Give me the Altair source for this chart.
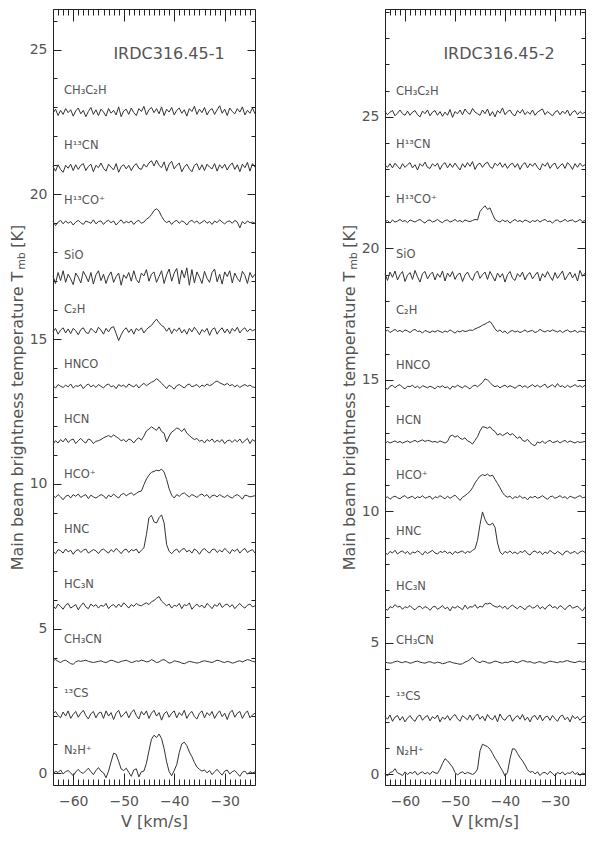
import altair as alt
import pandas as pd

# ---------------- channel grid ----------------
V_START = -64.0
V_STEP = 0.5
N_CHAN = 81

XMINOR = list(range(-64, -23))
XMAJOR = [-60, -50, -40, -30]
YMAJOR = [0, 5, 10, 15, 20, 25]
YMINOR_L = list(range(0, 27))
YMINOR_R = list(range(0, 30))

molecules = ["N₂H⁺", "¹³CS", "CH₃CN", "HC₃N", "HNC", "HCO⁺", "HCN", "HNCO",
             "C₂H", "SiO", "H¹³CO⁺", "H¹³CN", "CH₃C₂H"]

left_offsets = [0, 2.0, 3.85, 5.75, 7.65, 9.55, 11.45, 13.35, 15.25, 17.1, 19.0, 20.9, 22.8]
right_offsets = [0, 2.1, 4.25, 6.3, 8.4, 10.5, 12.6, 14.7, 16.8, 18.9, 21.0, 23.1, 25.1]

# ---------------- IRDC316.45-1 spectra (0.01 K above baseline) ----------------
L_N2H = [-5, 8, 3, 12, -2, 6, 10, 2, -8, 5,
         14, 4, 0, 9, 18, 6, -4, 10, 20, 8,
         2, -15, 8, 40, 70, 66, 42, 15, 10, 18,
         4, -10, 12, 16, -12, 6, 8, 35, 78, 118,
         132, 124, 136, 120, 86, 40, 6, -8, 10, 30,
         72, 102, 108, 96, 74, 58, 38, 22, 14, 8,
         12, 2, 10, -4, 6, 14, 3, -6, 8, 12,
         -2, 6, 10, 0, -10, 4, 8, -3, 6, 2,
         5]
L_13CS = [6, 14, 0, -8, 12, -2, 16, -10, 4, 14,
          -6, 8, 18, 0, -12, 6, 14, -8, 8, 12,
          -10, 16, -2, 10, -14, 8, 18, -6, 4, 14,
          -8, 10, 20, 0, -12, 14, 2, 16, -10, 8,
          18, -2, 10, -16, 6, 14, -6, 8, 16, -8,
          10, 0, 18, -10, 6, 14, -4, -12, 8, 16,
          -8, 10, 0, 14, -10, 6, 16, -4, 8, -14,
          10, 18, -6, 8, 14, -10, 6, 16, -8, 2,
          8]
L_CH3CN = [4, 8, 2, -2, 4, 6, 0, -6, -8, 0,
           4, 2, 4, 6, 2, 0, -2, 0, 2, 4,
           0, -2, 2, 6, 4, 0, -2, 2, 4, 6,
           2, -2, 0, 4, 2, 6, 4, 0, 2, 8,
           4, -2, 0, 6, 8, 2, -4, -2, 4, 2,
           0, -4, -6, -2, 2, 0, -2, -4, -2, 2,
           4, 2, 0, -2, 2, 6, 4, 0, -2, 2,
           0, -4, -2, 2, 4, 0, 4, 8, 6, 2,
           0]
L_HC3N = [4, -6, 10, 2, -8, 6, 12, -4, 2, 8,
          -10, 4, 14, 0, -6, 10, 2, 8, -4, 6,
          2, 12, -6, 4, 8, -2, 10, 0, 14, 6,
          -4, 8, 2, 12, 6, 4, 10, 14, 8, 18,
          22, 30, 36, 20, 12, 4, 10, -4, 6, 2,
          12, -6, 8, 4, 14, -8, 2, 10, 0, 6,
          -4, 12, 4, -6, 8, 2, 14, -2, 6, 10,
          0, 8, -6, 4, 12, 2, -4, 6, 10, 0,
          4]
L_HNC = [2, -6, 8, 4, -4, 10, 0, 6, -8, 4,
         8, -2, 6, 10, -4, 2, 8, 4, -6, 6,
         10, 2, -4, 8, 0, 12, 4, -6, 6, 10,
         -2, 8, 4, 10, -4, 6, 14, 60, 118, 126,
         104, 100, 118, 128, 100, 25, 2, -6, 4, 10,
         -2, 8, 12, 0, 6, -4, 10, 4, -8, 6,
         12, 2, -4, 8, 10, -2, 6, 0, 12, 4,
         -6, 8, 2, 10, -4, 6, 12, -2, 4, 8,
         -4]
L_HCOP = [4, -2, 8, 0, -10, 2, 6, -4, 8, 2,
          10, -2, 4, 8, -6, 6, 0, -4, 2, 8,
          4, -6, 6, 0, 10, 2, -4, 8, 12, 4,
          10, 14, 6, 12, 18, 20, 42, 62, 75, 85,
          88, 92, 90, 96, 86, 60, 28, 6, -4, 8,
          2, 10, 14, 6, 0, 8, 4, -2, 6, 10,
          2, 8, -4, 4, 6, 0, 8, 2, -2, 6,
          0, -4, 4, 8, 2, -8, 6, 4, 0, 2,
          4]
L_HCN = [-8, 4, -4, 8, 0, 12, -2, 6, 10, -6,
         4, 12, 2, -4, 10, 6, -6, 2, 4, 8,
         14, 18, 22, 16, 24, 18, 12, 4, 8, 0,
         10, 6, -4, 8, 14, 6, 20, 38, 44, 52,
         46, 40, 52, 36, 30, 0, 20, 34, 40, 48,
         44, 36, 46, 30, 22, 14, 8, 12, 2, 6,
         -4, 8, 2, 10, -2, 6, 0, 8, -6, 4,
         6, -2, 8, 0, 10, -4, 4, 12, -6, 8,
         2]
L_HNCO = [4, -4, 8, 2, -2, 6, 0, 10, -4, 4,
          2, 8, -6, 4, 10, 0, 6, -2, 8, 2,
          -4, 6, 10, 0, 4, -6, 8, 2, 6, -2,
          10, 4, 0, 8, -4, 6, 12, 4, 10, 16,
          20, 28, 22, 12, 4, -6, 6, 0, -8, 4,
          8, 2, -4, 6, 10, 0, 4, 8, -2, 6,
          2, 10, 4, 8, 16, 20, 14, 10, 6, 12,
          4, 8, 0, 6, -2, 4, 8, 2, 6, 0,
          -2]
L_C2H = [0, 12, -8, 6, 14, -4, 10, -6, 12, 4,
         -10, 8, 14, -2, -6, 12, 4, -4, 16, 6,
         -8, 12, 0, 14, 18, -6, -30, -10, 6, 14,
         -2, 10, -8, 12, 4, 14, -4, 8, 16, 22,
         34, 44, 32, 22, 16, 2, 14, -6, 10, 2,
         14, -4, 8, -8, 12, 0, 16, 4, -10, 8,
         0, 12, -12, 8, 14, -8, 6, 14, -4, 10,
         -6, 12, 2, 16, -4, 8, 14, 0, 10, 4,
         8]
L_SIO = [8, -18, 20, -8, 26, -14, 14, -2, -22, 18,
         4, -16, 24, 8, -12, 20, -20, 12, 26, -8,
         14, -18, 8, 22, -14, 6, 18, -24, 12, 0,
         20, -10, 26, -4, -16, 18, 8, 30, -10, 14,
         22, -14, 6, 26, -18, 12, 32, -10, 18, 34,
         -20, 28, 2, 36, -24, 30, -16, 22, 4, -18,
         24, 0, -14, 20, 32, -12, 14, -20, 22, 6,
         26, -16, 18, 0, -12, 24, 10, -18, 20, 2,
         14]
L_H13COP = [6, -8, 4, 10, -2, 8, 0, 6, -6, 4,
            10, 2, -4, 8, 4, 0, 12, -2, 6, 8,
            -4, 6, 10, 2, 8, -6, 4, 12, 0, 6,
            2, 8, -4, 6, 10, 0, 4, 14, 20, 30,
            44, 50, 42, 24, 10, 2, 8, -4, 6, 10,
            0, 8, 4, -6, 6, 10, 2, 8, -2, 4,
            10, 0, 6, -4, 8, 2, 12, 4, -2, 6,
            8, 0, 10, 4, -16, 6, -2, 8, 2, 4,
            0]
L_H13CN = [6, -10, 12, -4, -14, 10, 0, 14, -8, 12,
           -4, 10, 16, -8, 6, 14, -12, 10, 2, 18,
           0, -10, 14, 4, -6, 16, -14, 6, 12, -2,
           10, -8, 8, 16, 0, -4, 14, 4, 18, 26,
           8, 28, 10, 2, 22, -10, 14, 24, -2, 10,
           18, -12, 4, 14, -2, -12, 10, 16, -6, 12,
           -8, 14, 4, -2, 16, -10, 12, 0, 14, -6,
           10, 18, -4, 12, -12, 14, 2, 20, -10, 16,
           4]
L_CH3C2H = [0, 14, -8, 10, -4, 16, 2, 12, -10, 8,
            18, -2, 10, -12, 6, 20, -4, 12, -8, 14,
            4, -10, 16, 0, 10, -6, 22, -12, 8, 14,
            -4, 18, 2, -8, 16, 6, 24, -6, 12, 20,
            2, 16, -2, 22, -8, 14, 4, 20, -6, 10,
            18, 0, 12, -10, 16, 6, 24, -4, 14, 2,
            20, -6, 10, 16, -4, 12, 26, 0, 14, -8,
            18, 6, -2, 16, 4, 22, -6, 10, 0, 18,
            -2]

# ---------------- IRDC316.45-2 spectra (0.01 K above baseline) ----------------
R_N2H = [4, -6, 8, 10, 22, 6, 2, -4, 10, 0,
         8, 4, 12, -2, 6, 10, 2, 8, 0, 12,
         6, 4, 20, 42, 60, 52, 40, 28, 8, -2,
         6, 10, 2, 8, 4, 0, 6, 20, 90, 115,
         110, 106, 96, 80, 62, 48, 30, 14, -6, 8,
         60, 98, 96, 80, 64, 52, 36, 18, 8, 12,
         2, 10, -4, 6, 8, 0, 12, 4, -6, 8,
         2, 10, -2, 6, 4, 12, 0, 8, -4, 6,
         2]
R_13CS = [10, 0, 16, -8, 8, 14, -4, 10, -10, 4,
          14, 0, -8, 10, 16, -4, 8, 14, -6, 10,
          2, 16, -10, 8, 0, 14, -4, 10, 18, 2,
          -8, 14, 6, -2, 16, -4, 10, 20, 0, 12,
          -6, 18, 4, -2, 14, -10, 20, 2, -4, 10,
          16, -8, 6, 14, 0, 18, -4, 8, -10, 10,
          14, -2, 16, -6, 8, 12, -4, 14, 2, -8,
          10, 16, -2, 8, -10, 14, 2, 10, -4, 8,
          12]
R_CH3CN = [2, 0, -2, 0, 4, 6, 2, 0, 4, 2,
           -2, 0, 4, 6, 2, 0, -2, 2, 4, 0,
           -2, 2, 0, -4, -2, 2, 4, 0, -2, -4,
           -6, -4, 2, 6, 12, 20, 10, 4, 0, 6,
           4, 0, -2, 2, 6, 4, 0, -2, 2, 0,
           4, 6, 2, 0, 4, 8, 6, 2, 4, 0,
           -2, 2, 4, 0, -2, 2, 6, 4, 2, 0,
           4, 2, 6, 8, 4, 2, 0, 4, 6, 2,
           4]
R_HC3N = [2, -6, 8, 4, 16, 6, 10, -2, 8, 4,
          12, 2, -4, 6, 10, 0, 8, 4, -6, 6,
          10, -2, 4, 12, 0, 6, -8, 8, 2, 10,
          4, -4, 14, 0, 8, 6, 16, 2, 10, 6,
          20, 18, 22, 14, 8, 6, 12, 2, 10, -2,
          8, 14, 6, 0, 10, 4, -4, 8, 12, 2,
          6, 14, 0, 8, -2, 10, 16, 4, 8, 0,
          12, 6, -4, 8, 14, 2, 6, 10, 0, -8,
          6]
R_HNC = [4, -4, 8, 2, 12, -2, 6, 10, 0, 8,
         -4, 6, 2, 10, 4, -6, 8, 0, 6, 12,
         2, -2, 8, 4, 10, 0, 6, -4, 8, 2,
         6, 10, 0, 8, 4, 12, 18, 50, 110, 158,
         130, 112, 108, 116, 100, 40, 6, -4, 8, 2,
         10, 0, 6, -2, 8, 4, 12, 0, -6, 6,
         10, 2, 8, -4, 6, 0, 12, 4, -2, 8,
         2, -6, 6, 10, 0, 4, 8, -2, 6, 10,
         4]
R_HCOP = [0, 6, -4, 4, 8, 2, -2, 6, 10, 0,
          4, 8, -2, 6, 2, 10, 0, 4, 8, -4,
          6, 2, 10, 4, -2, 8, 0, 6, 12, 2,
          -8, 4, 10, 18, 26, 40, 58, 72, 84, 90,
          86, 92, 84, 88, 72, 56, 40, 22, 10, 4,
          8, -2, 6, 2, 10, 0, 4, -6, 6, 2,
          8, 0, 4, 10, 2, -4, 6, 8, 0, 4,
          10, 2, 6, -2, 8, 4, 0, 6, 10, 2,
          4]
R_HCN = [-2, 6, 0, 4, 8, 2, 6, 0, 4, 8,
         2, 6, 10, 4, 8, 12, 6, 10, 8, 4,
         6, 2, 8, 4, 0, 6, 26, 30, 22, 28,
         18, 14, 20, 8, 4, -4, 10, 24, 46, 62,
         60, 56, 62, 50, 44, 30, 36, 28, 34, 40,
         30, 36, 26, 18, 24, 10, 6, 14, 2, -6,
         -10, 4, 0, 8, -2, 6, 10, 2, 4, 8,
         0, 6, 10, 2, 8, 4, 0, 6, 2, 4,
         6]
R_HNCO = [2, -6, 6, 10, 0, 8, 12, 2, -4, 6,
          4, 10, 0, 6, -2, 8, 4, 0, 6, 2,
          -4, 6, 2, 8, 0, 4, -6, 6, 2, 10,
          4, 0, 8, 2, -4, 6, 10, 4, 12, 20,
          34, 30, 20, 10, 4, 8, 0, 6, 10, 2,
          8, 4, -2, 6, 10, 2, 8, 0, 6, 12,
          4, 10, 2, 8, 14, 0, 6, 12, 2, 16,
          4, 8, 0, 10, 2, 6, 12, 4, 8, 2,
          10]
R_C2H = [2, 10, 0, 6, 12, 4, 8, 2, 10, 6,
         0, 8, 12, 4, 6, -2, 8, 4, 0, 6,
         2, 8, 4, 0, 6, 2, 10, 4, -2, 6,
         2, 8, 4, 6, 10, 8, 14, 18, 22, 28,
         32, 38, 42, 30, 14, 4, 10, 0, 6, -4,
         4, 8, 2, 6, 0, 4, 10, 2, 6, 8,
         0, 4, 12, 6, 2, 8, 4, 10, 6, 2,
         8, 0, 6, 10, 2, 4, 8, 0, 6, 4,
         2]
R_SIO = [14, -12, 20, 0, 24, -10, 10, 22, -16, 8,
         18, -8, 26, 2, -18, 14, 22, -6, 10, 20,
         -10, 14, 0, 24, -14, 16, 2, 22, -8, 10,
         16, -16, 8, 20, 0, -12, 14, 24, -4, 10,
         20, -8, 22, 4, -14, 16, 0, 14, -18, 10,
         22, -4, -12, 14, 2, 20, -10, 10, 18, -6,
         8, 20, -14, 14, 0, 22, 4, -12, 18, -4,
         10, 24, -10, 6, 20, -2, 14, -14, 26, 4,
         16]
R_H13COP = [2, 6, -4, 8, 0, 4, 10, 2, 6, -2,
            8, 4, 0, 6, 10, 2, -4, 6, 8, 0,
            4, 10, 2, -2, 6, 8, 0, 4, 10, 2,
            6, 0, 8, 4, 2, 6, 10, 8, 40, 52,
            62, 48, 54, 30, 10, 4, 0, 8, 2, 6,
            -4, 4, 10, 2, 6, 0, 8, 4, -2, 6,
            2, 8, 0, 6, 10, 2, 4, -4, 6, 8,
            0, 4, 10, 2, 6, 8, 0, 4, 10, 2,
            6]
R_H13CN = [8, -2, 12, -4, 14, 2, -8, 12, -2, 8,
           16, -4, 8, -12, 12, 2, 18, -2, -6, 12,
           2, 14, -10, 8, 16, -4, 12, -2, 14, 0,
           -12, 12, -2, 16, 2, 20, -10, 8, 14, -2,
           12, 18, 0, -6, 14, 4, 16, -2, 12, -6,
           8, 14, -2, 12, -10, 8, 16, -4, 12, 2,
           14, -2, -12, 12, 2, 16, -6, 8, 14, -8,
           4, 12, -6, 16, 6, -10, 12, -2, 14, 2,
           8]
R_CH3C2H = [10, -2, 8, 14, -6, 4, 16, 2, -4, 12,
            -4, 8, 14, -2, -10, 12, 2, 16, -6, 8,
            14, -4, 10, -8, 8, -4, 18, -12, 10, 2,
            16, -2, 20, 6, 0, 22, 8, 2, -4, 16,
            2, 20, -6, 10, -10, 14, 4, 24, -2, 10,
            16, 0, -6, 14, 4, 18, -2, 10, 0, 16,
            -4, 8, 14, 20, -2, 10, 2, -6, 8, 14,
            -2, 12, 2, 16, -6, 8, 14, -2, 10, 2,
            8]

left_spectra = [L_N2H, L_13CS, L_CH3CN, L_HC3N, L_HNC, L_HCOP, L_HCN, L_HNCO,
                L_C2H, L_SIO, L_H13COP, L_H13CN, L_CH3C2H]
right_spectra = [R_N2H, R_13CS, R_CH3CN, R_HC3N, R_HNC, R_HCOP, R_HCN, R_HNCO,
                 R_C2H, R_SIO, R_H13COP, R_H13CN, R_CH3C2H]
for s in left_spectra + right_spectra:
    assert len(s) == N_CHAN, len(s)

GRAY = "#555555"
INK = "#222222"
LINE = "#333333"
FONT = "DejaVu Sans"
YTITLE = "Main beam brightness temperature T\u2003\u2002[K]"
H = 776


def tick_axis(orient, offset, values, size):
    return alt.Axis(orient=orient, offset=offset, values=values, ticks=True,
                    tickSize=size, tickColor=INK, tickWidth=1, labels=False,
                    domain=False, grid=False, title=None)


def panel(spectra, offsets, ymax, W, title, yminor, title_x):
    rows = []
    for name, off, vals in zip(molecules, offsets, spectra):
        for k, val in enumerate(vals):
            rows.append({"v": V_START + V_STEP * k, "T": off + val / 100.0, "mol": name})
    df = pd.DataFrame(rows)
    lab = pd.DataFrame({"mol": molecules, "T": offsets})
    one = lab.head(1)

    xs = alt.Scale(domain=[-64, -24], nice=False, zero=False)
    ys = alt.Scale(domain=[-0.4, ymax], nice=False, zero=False)

    xlab = alt.Axis(orient="bottom", values=XMAJOR, ticks=False, tickSize=0,
                    domain=False, grid=False, labelFont=FONT, labelFontSize=14,
                    labelColor=GRAY, labelPadding=9, title="V [km/s]",
                    titleFont=FONT, titleFontSize=16, titleFontWeight="normal",
                    titleColor=GRAY, titlePadding=5)
    ylab = alt.Axis(orient="left", values=YMAJOR, ticks=False, tickSize=0,
                    domain=False, grid=False, labelFont=FONT, labelFontSize=14,
                    labelColor=GRAY, labelPadding=6, title=YTITLE,
                    titleFont=FONT, titleFontSize=16, titleFontWeight="normal",
                    titleColor=GRAY, titlePadding=4)

    lines = alt.Chart(df).mark_line(color=LINE, strokeWidth=1).encode(
        x=alt.X("v:Q", scale=xs, axis=xlab),
        y=alt.Y("T:Q", scale=ys, axis=ylab),
        detail="mol:N",
    )
    labels = alt.Chart(lab).mark_text(align="left", baseline="middle", dy=-22,
                                      font=FONT, fontSize=11.5, color=GRAY).encode(
        x=alt.value(11),
        y=alt.Y("T:Q", scale=ys, axis=tick_axis("right", -W, yminor, 4)),
        text="mol:N",
    )
    t1 = alt.Chart(df).mark_point(opacity=0).encode(
        x=alt.X("v:Q", scale=xs, axis=tick_axis("top", -H, XMINOR, 6)),
        y=alt.Y("T:Q", scale=ys, axis=tick_axis("right", -W, YMAJOR, 8)),
    )
    t2 = alt.Chart(df).mark_point(opacity=0).encode(
        x=alt.X("v:Q", scale=xs, axis=tick_axis("top", -H, XMAJOR, 12)),
        y=alt.Y("T:Q", scale=ys, axis=tick_axis("left", -W, yminor, 4)),
    )
    t3 = alt.Chart(df).mark_point(opacity=0).encode(
        x=alt.X("v:Q", scale=xs, axis=tick_axis("bottom", -H, XMINOR, 6)),
        y=alt.Y("T:Q", scale=ys, axis=tick_axis("left", -W, YMAJOR, 8)),
    )
    t4 = alt.Chart(df).mark_point(opacity=0).encode(
        x=alt.X("v:Q", scale=xs, axis=tick_axis("bottom", -H, XMAJOR, 12)),
        y=alt.Y("T:Q", scale=ys, axis=None),
    )
    ttl = alt.Chart(one).mark_text(align="center", baseline="middle", font=FONT,
                                   fontSize=16, color=GRAY).encode(
        x=alt.value(title_x), y=alt.value(45), text=alt.value(title))
    sub = alt.Chart(one).mark_text(align="center", baseline="middle", font=FONT,
                                   fontSize=11, color=GRAY, angle=270).encode(
        x=alt.value(-31), y=alt.value(252), text=alt.value("mb"))

    return alt.layer(lines, labels, t1, t2, t3, t4, ttl, sub).resolve_axis(
        x="independent", y="independent").properties(width=W, height=H)


left = panel(left_spectra, left_offsets, 26.4, 202, "IRDC316.45-1", YMINOR_L, 116)
right = panel(right_spectra, right_offsets, 29.1, 200, "IRDC316.45-2", YMINOR_R, 114)

chart = alt.hconcat(left, right, spacing=81).properties(
    padding={"left": 0, "right": 0, "top": 0, "bottom": 0}
).configure_view(stroke=INK, strokeWidth=1)

chart.save("out.html", embed_options={"renderer": "svg", "actions": False})
